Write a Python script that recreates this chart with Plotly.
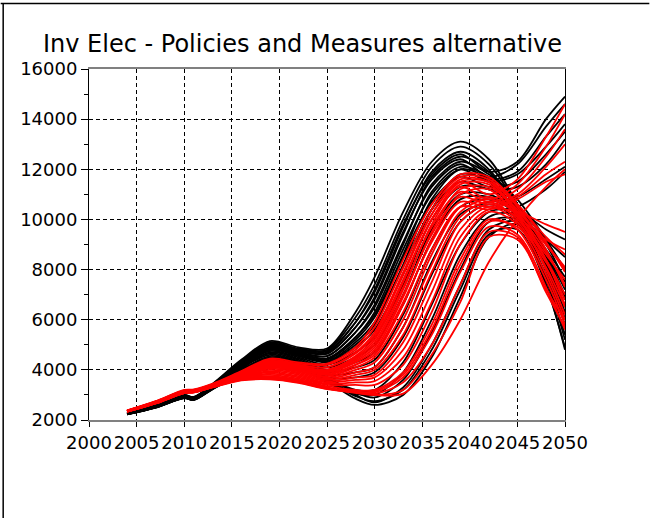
import plotly.graph_objects as go

# Sample years shared by every run
YEARS = [2004, 2007, 2010, 2011, 2013, 2016, 2019, 2022, 2025, 2028,
         2030, 2033, 2036, 2039, 2042, 2045, 2048, 2050]

# Reference-scenario runs (black)
BLACK_RUNS = [
    [2300, 2600, 3000, 2920, 3450, 4400, 5150, 4900, 4850, 6300, 7700, 10300, 12300, 13100, 12400, 10600, 8300, 6500],
    [2280, 2580, 2980, 2900, 3420, 4350, 5100, 4850, 4800, 6100, 7400, 10000, 12100, 12900, 12200, 10500, 8000, 6000],
    [2270, 2570, 2960, 2880, 3400, 4300, 5050, 4800, 4700, 5900, 7100, 9700, 11900, 12700, 12000, 10300, 7700, 5400],
    [2290, 2590, 2990, 2910, 3430, 4330, 5000, 4750, 4650, 5700, 6800, 9400, 11700, 12500, 11900, 10400, 8400, 7000],
    [2260, 2560, 2950, 2870, 3380, 4250, 4950, 4700, 4550, 5500, 6500, 9000, 11400, 12300, 11800, 10800, 9200, 8000],
    [2250, 2550, 2940, 2860, 3360, 4200, 4900, 4650, 4450, 5300, 6200, 8600, 11100, 12100, 11700, 10600, 8700, 7200],
    [2240, 2540, 2930, 2850, 3340, 4150, 4850, 4600, 4350, 5100, 5900, 8200, 10800, 12000, 11600, 10200, 7400, 4900],
    [2260, 2560, 2950, 2870, 3380, 4200, 4800, 4550, 4300, 4900, 5600, 7800, 10400, 11800, 11500, 10000, 7800, 5800],
    [2280, 2580, 2970, 2890, 3410, 4300, 5050, 4800, 4750, 5900, 7200, 9800, 11800, 12600, 11900, 12300, 14000, 14900],
    [2270, 2570, 2960, 2880, 3400, 4280, 5000, 4780, 4650, 5700, 6900, 9500, 11600, 12400, 11700, 12200, 13700, 14600],
    [2260, 2560, 2950, 2870, 3380, 4250, 4950, 4720, 4550, 5500, 6600, 9100, 11300, 12200, 11600, 11900, 13300, 14200],
    [2250, 2550, 2940, 2860, 3360, 4200, 4900, 4680, 4450, 5300, 6300, 8800, 11000, 12000, 11500, 11800, 12900, 13800],
    [2240, 2540, 2930, 2850, 3340, 4180, 4850, 4620, 4400, 5200, 6100, 8500, 10700, 11700, 11300, 11500, 12600, 13500],
    [2250, 2550, 2940, 2860, 3350, 4150, 4800, 4580, 4350, 5000, 5800, 8100, 10400, 11500, 11200, 11300, 12200, 13200],
    [2240, 2530, 2920, 2840, 3320, 4100, 4750, 4500, 4200, 4700, 5300, 7400, 10000, 11300, 11200, 10500, 9200, 8500],
    [2230, 2520, 2910, 2830, 3300, 4050, 4700, 4450, 4100, 4500, 5000, 7000, 9600, 11000, 11000, 10300, 8800, 7700],
    [2250, 2540, 2930, 2850, 3330, 4120, 4650, 4400, 4000, 4300, 4700, 6600, 9200, 10800, 10900, 10400, 9600, 9200],
    [2240, 2530, 2920, 2840, 3310, 4080, 4600, 4350, 3900, 4100, 4400, 6200, 8800, 10500, 10800, 10200, 8500, 6800],
    [2230, 2520, 2910, 2830, 3290, 4000, 4550, 4300, 3800, 3900, 4100, 5700, 8300, 10200, 10700, 10900, 11600, 12100],
    [2220, 2510, 2900, 2820, 3280, 3950, 4500, 4250, 3700, 3700, 3900, 5300, 7800, 9900, 10600, 10000, 8200, 6300],
    [2230, 2500, 2880, 2810, 3260, 3900, 4450, 4200, 3650, 3000, 2700, 3300, 5000, 7400, 9600, 9900, 8100, 6000],
    [2220, 2490, 2870, 2800, 3240, 3870, 4420, 4150, 3550, 2850, 2600, 3000, 4500, 6900, 9300, 9800, 7600, 5200],
    [2240, 2510, 2890, 2820, 3270, 3920, 4470, 4220, 3700, 3100, 2900, 3600, 5500, 8000, 9900, 10000, 8600, 6900],
    [2230, 2500, 2880, 2810, 3250, 3890, 4440, 4180, 3600, 2950, 2750, 3200, 4800, 7200, 9400, 9600, 7400, 4800],
    [2220, 2490, 2870, 2800, 3230, 3850, 4400, 4120, 3500, 3050, 3000, 3900, 6000, 8600, 10100, 10200, 9000, 7500],
    [2230, 2500, 2880, 2810, 3250, 3880, 4430, 4160, 3650, 3200, 3200, 4300, 6600, 9000, 10300, 10500, 11200, 11900],
]

# Policies-and-measures runs (red)
RED_RUNS = [
    [2380, 2750, 3200, 3220, 3450, 3950, 4450, 4300, 4250, 4900, 5900, 8400, 10600, 11800, 11700, 10600, 9100, 7900],
    [2370, 2740, 3180, 3200, 3430, 3920, 4400, 4250, 4200, 4800, 5700, 8100, 10400, 11700, 11600, 10500, 8800, 7300],
    [2370, 2730, 3170, 3190, 3420, 3900, 4350, 4200, 4100, 4650, 5400, 7800, 10200, 11600, 11500, 10300, 8400, 6600],
    [2360, 2720, 3160, 3180, 3410, 3880, 4300, 4150, 4000, 4500, 5200, 7500, 10000, 11500, 11500, 10600, 9300, 8600],
    [2360, 2720, 3150, 3170, 3400, 3850, 4250, 4100, 3950, 4400, 5000, 7200, 9800, 11400, 11400, 10200, 8000, 6200],
    [2350, 2710, 3140, 3160, 3390, 3830, 4200, 4050, 3900, 4300, 4800, 6900, 9500, 11200, 11300, 10400, 9000, 8000],
    [2350, 2700, 3130, 3150, 3380, 3800, 4150, 4000, 3850, 4200, 4600, 6600, 9200, 11000, 11200, 10100, 8600, 7600],
    [2370, 2730, 3170, 3190, 3420, 3900, 4350, 4200, 4100, 4700, 5500, 7900, 10200, 11500, 11000, 11600, 13300, 14600],
    [2360, 2720, 3160, 3180, 3410, 3880, 4300, 4150, 4000, 4550, 5300, 7600, 10000, 11300, 10800, 11400, 12900, 14200],
    [2360, 2710, 3150, 3170, 3400, 3860, 4250, 4100, 3950, 4450, 5100, 7300, 9700, 11100, 10700, 11200, 12500, 13600],
    [2350, 2700, 3140, 3160, 3390, 3840, 4200, 4050, 3900, 4350, 4900, 7000, 9400, 10900, 10600, 11000, 12100, 13000],
    [2350, 2700, 3130, 3150, 3380, 3820, 4150, 4000, 3800, 4200, 4700, 6700, 9100, 10700, 10500, 10900, 11800, 12300],
    [2340, 2690, 3120, 3140, 3370, 3800, 4100, 3950, 3750, 4100, 4500, 6300, 8800, 10500, 10400, 10800, 11500, 11800],
    [2350, 2700, 3120, 3150, 3370, 3780, 4100, 3950, 3700, 4000, 4300, 6000, 8600, 10500, 10900, 10300, 9000, 8100],
    [2340, 2690, 3110, 3140, 3360, 3760, 4050, 3900, 3650, 3900, 4100, 5700, 8200, 10300, 10800, 10200, 8700, 7400],
    [2340, 2680, 3100, 3130, 3350, 3740, 4000, 3850, 3600, 3800, 4000, 5400, 7900, 10100, 10700, 10000, 8400, 7000],
    [2350, 2690, 3110, 3140, 3360, 3720, 3950, 3800, 3550, 3700, 3800, 5100, 7500, 9900, 10600, 10100, 9200, 8800],
    [2340, 2680, 3100, 3130, 3340, 3700, 3900, 3750, 3500, 3600, 3700, 4800, 7100, 9600, 10500, 9900, 8100, 6500],
    [2330, 2670, 3090, 3120, 3330, 3680, 3850, 3700, 3450, 3500, 3550, 4500, 6700, 9300, 10400, 10300, 9800, 9500],
    [2340, 2680, 3100, 3130, 3340, 3690, 3800, 3650, 3400, 3400, 3400, 4200, 6300, 9000, 10300, 9800, 7800, 6000],
    [2330, 2670, 3080, 3110, 3320, 3650, 3750, 3600, 3350, 3200, 3200, 3900, 5800, 8400, 10000, 9600, 7600, 5800],
    [2330, 2660, 3070, 3100, 3310, 3620, 3700, 3550, 3300, 3100, 3100, 3700, 5400, 7900, 9700, 9400, 7300, 5600],
    [2340, 2670, 3080, 3110, 3320, 3640, 3720, 3580, 3280, 3150, 3050, 3500, 5000, 7400, 9500, 9300, 7100, 5700],
    [2330, 2660, 3070, 3100, 3310, 3600, 3650, 3500, 3250, 3100, 3000, 3200, 4600, 6700, 9300, 9200, 7200, 6000],
    [2340, 2670, 3080, 3110, 3320, 3630, 3680, 3520, 3260, 3080, 3000, 3050, 4200, 6000, 8300, 10000, 11300, 12000],
    [2330, 2660, 3070, 3100, 3300, 3580, 3620, 3480, 3230, 3120, 3150, 3800, 5600, 8200, 9900, 9700, 8300, 6800],
]

TITLE = "Inv Elec - Policies and Measures alternative"
X_TICKS = list(range(2000, 2051, 5))
Y_TICKS = list(range(2000, 16001, 2000))

fig = go.Figure()

for runs, colour in ((BLACK_RUNS, "black"), (RED_RUNS, "red")):
    for run in runs:
        fig.add_trace(go.Scatter(
            x=YEARS, y=run, mode="lines",
            line=dict(color=colour, width=1.8, shape="spline", smoothing=0.9),
            showlegend=False, hoverinfo="skip",
        ))

W, H = 650, 518
L, R, T, B = 88.5, 565.5, 69, 420


def px_x(p):
    return (p - L) / (R - L)


def px_y(p):
    return (B - p) / (B - T)


fig.update_layout(
    width=W, height=H,
    margin=dict(l=L, r=W - R, t=T, b=H - B, pad=0),
    paper_bgcolor="white", plot_bgcolor="white",
    font=dict(family="DejaVu Sans", color="black", size=18),
    title=dict(text=TITLE, xref="container", yref="container",
               x=302.5 / W, y=1 - 44 / H, xanchor="center", yanchor="middle",
               font=dict(family="DejaVu Sans", size=24, color="black")),
    xaxis=dict(range=[2000, 2050], tickvals=X_TICKS, ticktext=[str(v) for v in X_TICKS],
               tickangle=0,
               showline=True, linecolor="#808080", linewidth=2, mirror=True,
               ticks="outside", ticklen=5, tickcolor="black", tickwidth=1,
               showgrid=True, gridcolor="black", gridwidth=1, griddash="4px,3px",
               zeroline=False, tickfont=dict(size=18, color="black")),
    yaxis=dict(range=[2000, 16000], tickvals=Y_TICKS, ticktext=[str(v) for v in Y_TICKS],
               showline=True, linecolor="black", linewidth=1, mirror=True,
               ticks="outside", ticklen=7, tickcolor="black", tickwidth=1,
               showgrid=True, gridcolor="black", gridwidth=1, griddash="4px,3px",
               zeroline=False, tickfont=dict(size=18, color="black"),
               minor=dict(dtick=1000, ticks="outside", ticklen=4, tickcolor="black",
                          showgrid=False)),
    shapes=[
        dict(type="line", xref="paper", yref="paper",
             x0=px_x(0), x1=px_x(W), y0=px_y(3.5), y1=px_y(3.5),
             line=dict(color="black", width=1.5)),
        dict(type="line", xref="paper", yref="paper",
             x0=px_x(2.5), x1=px_x(2.5), y0=px_y(3.5), y1=px_y(H),
             line=dict(color="black", width=1.5)),
    ],
)

fig.write_html("out.html")
